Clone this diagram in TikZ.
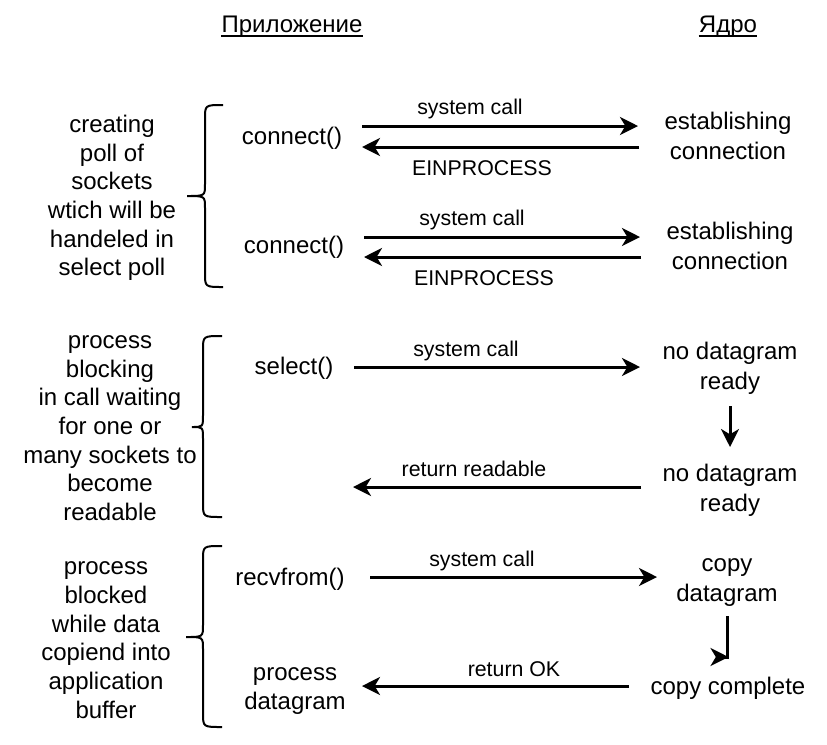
\documentclass[tikz,border=0pt]{standalone}
\usepackage{fontspec}
\setmainfont{Liberation Sans}
\usetikzlibrary{arrows.meta}
\tikzset{
 txt/.style={font=\fontsize{18}{21.5}\selectfont, align=center, inner sep=0pt},
 rtxt/.style={font=\fontsize{18}{22.5}\selectfont, align=center, inner sep=0pt},
 lbl/.style={font=\fontsize{16}{19}\selectfont, inner sep=0pt},
 hdr/.style={font=\fontsize{18}{21.5}\selectfont, inner sep=0pt},
 conn/.style={line width=2.25pt, -{Stealth[length=13.5pt,width=13.5pt,inset=4pt]}},
 bracestyle/.style={line width=1.5pt},
 uline/.style={line width=1.6pt},
}
\newcommand\mybrace[6]{% tipx spinex armx top mid bot
 \draw[bracestyle] (#3,#4) .. controls (#2,#4) .. (#2,#4+14) -- (#2,#5-12)
   .. controls (#2,#5) .. (#1,#5) .. controls (#2,#5) .. (#2,#5+12)
   -- (#2,#6-14) .. controls (#2,#6) .. (#3,#6);}
\begin{document}
\begin{tikzpicture}[x=0.75pt,y=-0.75pt]
\useasboundingbox (0,0) rectangle (827,744);
% headers
\node[hdr, anchor=base] (hApp) at (292,32) {Приложение};
\node[hdr, anchor=base] (hKer) at (728,32) {Ядро};
\draw[uline] ([yshift=-3pt]hApp.base west) -- ([yshift=-3pt]hApp.base east);
\draw[uline] ([yshift=-3pt]hKer.base west) -- ([yshift=-3pt]hKer.base east);
% left descriptions
\node[txt] (L1) at (112,198) {creating\\poll of\\sockets\\wtich will be\\handeled in\\select poll};
\node[txt] (L2) at (110,428) {process\\blocking\\in call waiting\\for one or\\many sockets to\\become\\readable};
\node[txt] (L3) at (106,640) {process\\blocked\\while data\\copiend into\\application\\buffer};
% braces
\mybrace{187}{205}{223}{105}{196}{287}
\mybrace{192}{203}{222}{336}{427}{517}
\mybrace{186}{203}{222}{546}{637}{727}
% application side
\node[txt] (c1) at (292,138) {connect()};
\node[txt] (c2) at (294,247) {connect()};
\node[txt] (sel) at (294,368) {select()};
\node[txt] (rv) at (290,579) {recvfrom()};
\node[txt] (pd) at (295,691) {process\\datagram};
% kernel side
\node[rtxt] (e1) at (728,136) {establishing\\connection};
\node[rtxt] (e2) at (730,246) {establishing\\connection};
\node[rtxt] (nd1) at (730,368) {no datagram\\ready};
\node[rtxt] (nd2) at (730,490) {no datagram\\ready};
\node[rtxt] (cd) at (727,583) {copy\\datagram};
\node[rtxt] (cc) at (728,688) {copy complete};
% labels
\node[lbl] (l1) at (470,109) {system call};
\node[lbl] (l2) at (482,168) {EINPROCESS};
\node[lbl] (l3) at (472,220) {system call};
\node[lbl] (l4) at (484,278) {EINPROCESS};
\node[lbl] (l5) at (466,351) {system call};
\node[lbl] (l6) at (474,469) {return readable};
\node[lbl] (l7) at (482,561) {system call};
\node[lbl] (l8) at (514,669) {return OK};
% connector end points
\coordinate (a1s) at (362,126); \coordinate (a1e) at (638,126);
\coordinate (a2s) at (639,147); \coordinate (a2e) at (362,147);
\coordinate (a3s) at (364,237); \coordinate (a3e) at (640,237);
\coordinate (a4s) at (641,257); \coordinate (a4e) at (364,257);
\coordinate (a5s) at (354,367); \coordinate (a5e) at (640,367);
\coordinate (a6s) at (730,406); \coordinate (a6e) at (730,447);
\coordinate (a7s) at (641,487); \coordinate (a7e) at (353,487);
\coordinate (a8s) at (370,577); \coordinate (a8e) at (657,577);
\coordinate (a9s) at (727,616); \coordinate (a9b) at (727,657); \coordinate (a9e) at (728.5,657);
\coordinate (a10s) at (629,686); \coordinate (a10e) at (362,686);
% connectors
\draw[conn] (a1s) -- (a1e);
\draw[conn] (a2s) -- (a2e);
\draw[conn] (a3s) -- (a3e);
\draw[conn] (a4s) -- (a4e);
\draw[conn] (a5s) -- (a5e);
\draw[conn] (a6s) -- (a6e);
\draw[conn] (a7s) -- (a7e);
\draw[conn] (a8s) -- (a8e);
\draw[conn] (a9s) -- (a9b) -- (a9e);
\draw[conn] (a10s) -- (a10e);
\end{tikzpicture}
\end{document}
